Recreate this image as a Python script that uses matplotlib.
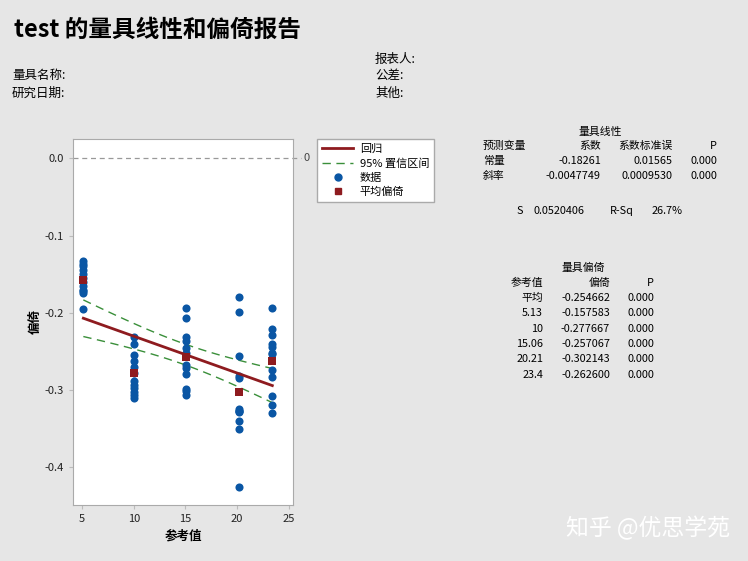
import numpy as np
import matplotlib
matplotlib.use('Agg')
import matplotlib.pyplot as plt
from matplotlib.lines import Line2D

plt.rcParams['font.family'] = ['Noto Sans CJK SC', 'DejaVu Sans']

ref_vals = [5.13, 10, 15.06, 20.21, 23.4]
bias_513 = [-0.133, -0.137, -0.140, -0.145, -0.150, -0.155, -0.160, -0.165, -0.170, -0.172, -0.175, -0.195]
bias_10 = [-0.232, -0.240, -0.255, -0.262, -0.270, -0.278, -0.288, -0.293, -0.298, -0.303, -0.307, -0.311]
bias_1506 = [-0.194, -0.207, -0.232, -0.236, -0.246, -0.252, -0.268, -0.272, -0.279, -0.299, -0.302, -0.307]
bias_2021 = [-0.180, -0.199, -0.256, -0.282, -0.285, -0.325, -0.327, -0.327, -0.329, -0.340, -0.350, -0.426]
bias_234 = [-0.194, -0.221, -0.229, -0.241, -0.244, -0.252, -0.254, -0.274, -0.283, -0.308, -0.319, -0.330]
all_bias = [bias_513, bias_10, bias_1506, bias_2021, bias_234]

# table values
coef_const, coef_slope = -0.18261, -0.0047749
se_const, se_slope = 0.01565, 0.0009530
s_val, r_sq = 0.0520406, 26.7
mean_bias = [-0.157583, -0.277667, -0.257067, -0.302143, -0.262600]
ref_labels = ['平均', '5.13', '10', '15.06', '20.21', '23.4']
bias_labels = ['-0.254662', '-0.157583', '-0.277667', '-0.257067', '-0.302143', '-0.262600']

bg = '#e6e6e6'
blue = '#0a56a4'
dred = '#8e1b1f'
green = '#3a8f3a'

fig = plt.figure(figsize=(7.48, 5.61), dpi=100, facecolor=bg)

# header
fig.text(14/748, 1-30/561, 'test 的量具线性和偏倚报告', fontsize=17, fontweight='bold', va='center')
fig.text(12/748, 1-75/561, '量具名称:', fontsize=9, va='center')
fig.text(12/748, 1-93/561, '研究日期:', fontsize=9, va='center')
fig.text(375/748, 1-59/561, '报表人:', fontsize=9, va='center')
fig.text(375/748, 1-75/561, '公差:', fontsize=9, va='center')
fig.text(375/748, 1-93/561, '其他:', fontsize=9, va='center')

ax = fig.add_axes([73/748, 1-505/561, 220/748, 366/561])
ax.set_facecolor('white')

xs = []
ys = []
for r, b in zip(ref_vals, all_bias):
    xs += [r]*len(b)
    ys += b
xs = np.array(xs)
ax.scatter(xs, ys, s=34, color=blue, zorder=3, linewidths=0)

# regression line and 95% CI
xl = np.linspace(min(ref_vals), max(ref_vals), 100)
yl = coef_const + coef_slope*xl
n = len(xs)
sxx = np.sum((xs - xs.mean())**2)
hw = 2.0017*s_val*np.sqrt(1/n + (xl - xs.mean())**2/sxx)
ax.plot(xl, yl, color=dred, lw=2, zorder=4)
ax.plot(xl, yl + hw, color=green, lw=1, ls=(0, (6, 4)), zorder=2)
ax.plot(xl, yl - hw, color=green, lw=1, ls=(0, (6, 4)), zorder=2)
ax.scatter(ref_vals, mean_bias, s=40, marker='s', color=dred, zorder=5, linewidths=0)

ax.axhline(0, color='#999999', lw=0.9, ls=(0, (4, 3)), clip_on=False, xmax=1.035, zorder=1)
ax.text(1.05, 0, '0', transform=ax.get_yaxis_transform(), fontsize=8, color='#444444', va='center')

ax.set_xlim(4.13, 25.4)
ax.set_ylim(-0.449, 0.025)
ax.set_xticks([5, 10, 15, 20, 25])
ax.set_yticks([0.0, -0.1, -0.2, -0.3, -0.4])
ax.set_yticklabels(['0.0', '-0.1', '-0.2', '-0.3', '-0.4'])
ax.tick_params(labelsize=8, colors='#bbbbbb', labelcolor='#222222', length=3)
for sp in ax.spines.values():
    sp.set_color('#aaaaaa')
ax.set_xlabel('参考值', fontsize=9, fontweight='bold')
ax.set_ylabel('偏倚', fontsize=9, fontweight='bold', labelpad=2)

handles = [Line2D([], [], color=dred, lw=2),
           Line2D([], [], color=green, lw=1, ls=(0, (6, 4))),
           Line2D([], [], color=blue, marker='o', ls='', ms=5),
           Line2D([], [], color=dred, marker='s', ls='', ms=5)]
fig.legend(handles, ['回归', '95% 置信区间', '数据', '平均偏倚'],
           loc='upper left', bbox_to_anchor=(317/748, 1-139/561), fontsize=8,
           frameon=True, fancybox=False, edgecolor='#aaaaaa', facecolor='white',
           framealpha=1, handlelength=2.8, borderpad=0.45, labelspacing=0.35,
           borderaxespad=0, handletextpad=0.6)

# linearity table
fs = 7.8
def t(x, y, s, ha='right'):
    fig.text(x/748, 1-y/561, s, fontsize=fs, ha=ha, va='center')

t(600, 132, '量具线性', 'center')
t(483, 146, '预测变量', 'left')
t(601, 146, '系数')
t(673, 146, '系数标准误')
t(717, 146, 'P')
t(483, 161, '常量', 'left')
t(601, 161, f'{coef_const:.5f}')
t(673, 161, f'{se_const:.5f}')
t(717, 161, '0.000')
t(483, 176, '斜率', 'left')
t(601, 176, f'{coef_slope:.7f}')
t(673, 176, f'{se_slope:.7f}')
t(717, 176, '0.000')
t(523, 211, 'S')
t(585, 211, f'{s_val:.7f}')
t(634, 211, 'R-Sq')
t(683, 211, f'{r_sq:.1f}%')

# bias table
t(583, 268, '量具偏倚', 'center')
t(543, 283, '参考值')
t(610, 283, '偏倚')
t(654, 283, 'P')
for i, (rl, bl) in enumerate(zip(ref_labels, bias_labels)):
    y = 298 + i*15.3
    t(543, y, rl)
    t(610, y, bl)
    t(654, y, '0.000')

fig.text(730/748, 1-528/561, '知乎 @优思学苑', fontsize=16.5, color='white', ha='right', va='center')

fig.savefig('out.png', dpi=100, facecolor=bg)
